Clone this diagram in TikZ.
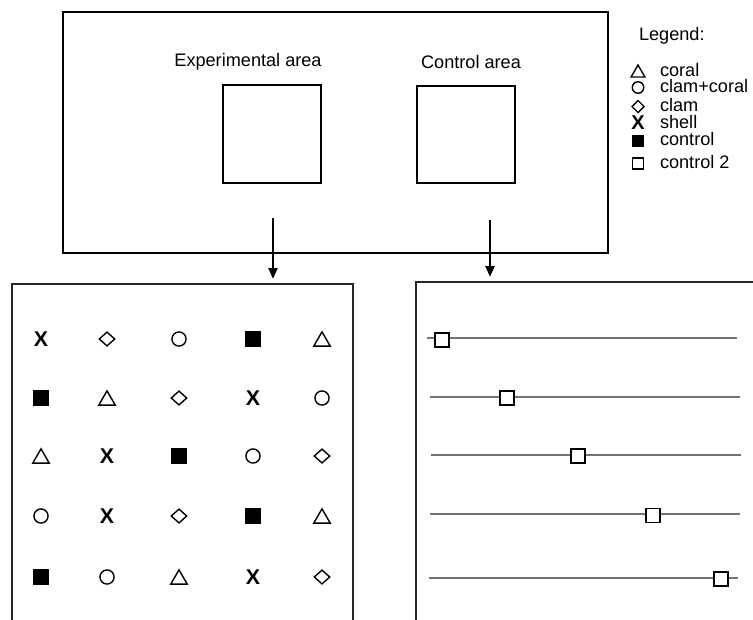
\documentclass[tikz,border=0pt]{standalone}
\usepackage{fontspec}
\setmainfont{Liberation Sans}
\usetikzlibrary{shapes.geometric,arrows.meta}
\tikzset{
  box/.style={draw, rectangle, inner sep=0pt, outer sep=0pt, line width=1.1pt},
  lbl/.style={inner sep=0pt, outer sep=0pt, font=\fontsize{13.6}{16}\selectfont},
  arr/.style={line width=1.1pt, -{Triangle[length=8pt,width=7pt]}, shorten >=4pt},
  gl/.style={draw=black!55, line width=0.9pt},
  sym/.style={inner sep=0pt, outer sep=0pt, line width=1.05pt},
  tri/.style={sym, draw, regular polygon, regular polygon sides=3, minimum size=#1, yshift=-#1/8},
  tri/.default=14.3pt,
  circ/.style={sym, draw, circle, minimum size=#1},
  circ/.default=10.6pt,
  dia/.style={sym, draw, diamond, minimum width=#1, minimum height=0.89*#1},
  dia/.default=11.6pt,
  fsq/.style={sym, fill, rectangle, minimum size=#1},
  fsq/.default=12pt,
  osq/.style={sym, draw, fill=white, rectangle, line width=1.05pt, minimum size=#1},
  osq/.default=10.5pt,
  xs/.style={inner sep=0pt, outer sep=0pt, font=\fontsize{#1}{#1}\selectfont\bfseries},
  xs/.default=16pt,
}
\begin{document}
\begin{tikzpicture}[x=0.75pt,y=-0.75pt]
\useasboundingbox (0,0) rectangle (753,619);
\clip (0,0) rectangle (753,619);
% top area
\node[box, line width=1.4pt, anchor=north west, minimum width=408.75pt, minimum height=180.75pt] (top) at (63,12) {};
\node[box, line width=1.3pt, minimum width=73.5pt, minimum height=73.5pt] (exp) at (272,134) {};
\node[box, line width=1.3pt, minimum width=73.5pt, minimum height=72.75pt] (ctl) at (466,134.5) {};
\node[lbl, anchor=base] (explbl) at (248,66) {Experimental area};
\node[lbl, anchor=base] (ctllbl) at (471,68) {Control area};
% bottom boxes
\node[box, draw=black!85, anchor=north west, minimum width=255.75pt, minimum height=270pt] (bl) at (12,284) {};
\node[box, draw=black!85, anchor=north west, minimum width=280pt, minimum height=270pt] (br) at (416,282) {};
% arrows
\coordinate (a1) at (273,218);
\coordinate (a2) at (490,220);
\draw[arr] (a1) -- (a1 |- bl.north);
\draw[arr] (a2) -- (a2 |- br.north);
% grid of treatments
\foreach \r/\y/\lst in {1/339/{xs/X,dia/{},circ/{},fsq/{},tri/{}},2/398/{fsq/{},tri/{},dia/{},xs/X,circ/{}},3/456/{tri/{},xs/X,fsq/{},circ/{},dia/{}},4/516/{circ/{},xs/X,dia/{},fsq/{},tri/{}},5/577/{fsq/{},circ/{},tri/{},xs/X,dia/{}}}{
  \foreach \s/\t [count=\c] in \lst {
    \pgfmathparse{{41,107,179,253,322}[\c-1]}
    \let\xx\pgfmathresult
    \node[\s] (g\r\c) at (\xx,\y) {\t};
  }
}
% control transects
\foreach \i/\y/\xa/\xb/\sx/\sy in {1/338/427/737/442/340,2/397/430/740/507/398,3/455/431/741/578/456,4/514/430/740/653/515.5,5/578/429/738/721/579}{
  \coordinate (la\i) at (\xa,\y);
  \coordinate (lb\i) at (\xb,\y);
  \draw[gl] (la\i) -- (lb\i);
  \node[osq] (q\i) at (\sx,\sy) {};
}
% legend
\node[lbl, anchor=base west] (leg) at (639,40) {Legend:};
\node[tri=12pt] (ls1) at (638,71) {};
\node[lbl, anchor=base west] (lt1) at (660,76) {coral};
\node[circ=8.6pt] (ls2) at (638,87.5) {};
\node[lbl, anchor=base west] (lt2) at (660,92.5) {clam+coral};
\node[dia=9pt, minimum height=9pt] (ls3) at (638,106.5) {};
\node[lbl, anchor=base west] (lt3) at (660,111.5) {clam};
\node[xs=15pt] (ls4) at (638,123) {X};
\node[lbl, anchor=base west] (lt4) at (660,128) {shell};
\node[fsq=9pt] (ls5) at (638,140.5) {};
\node[lbl, anchor=base west] (lt5) at (660,145.5) {control};
\node[osq=8.2pt] (ls6) at (638,163.5) {};
\node[lbl, anchor=base west] (lt6) at (660,168.5) {control 2};
\end{tikzpicture}
\end{document}
